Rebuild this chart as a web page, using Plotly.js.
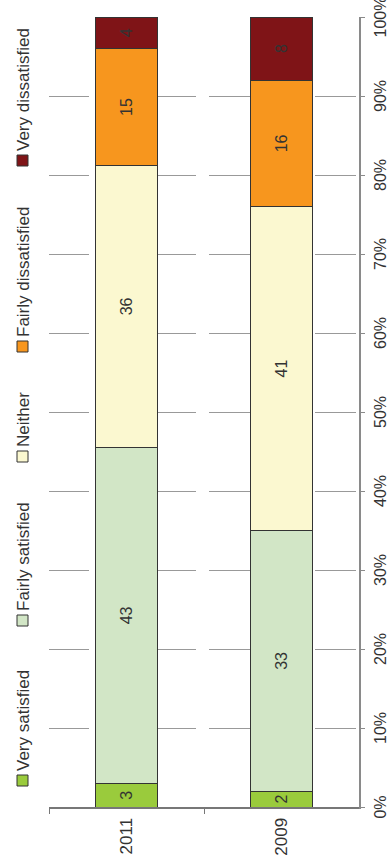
<!DOCTYPE html>
<html>
<head>
<meta charset="utf-8">
<script src="https://cdn.plot.ly/plotly-3.0.1.min.js"></script>
<style>
  html, body { margin: 0; padding: 0; width: 389px; height: 867px; overflow: hidden; background: #fff; }
  #wrap { position: absolute; left: 0; top: 0; width: 867px; height: 389px;
          transform-origin: 0 0; transform: translate(0px, 867px) rotate(-90deg); }
</style>
</head>
<body>
<div id="wrap"><div id="chart"></div></div>
<script>
// ---- data ----
var categories = ['2011', '2009'];
var seriesNames = ['Very satisfied', 'Fairly satisfied', 'Neither', 'Fairly dissatisfied', 'Very dissatisfied'];
var verySatisfied      = [3, 2];
var fairlySatisfied    = [43, 33];
var neither            = [36, 41];
var fairlyDissatisfied = [15, 16];
var veryDissatisfied   = [4, 8];
var percentTicks = [0, 10, 20, 30, 40, 50, 60, 70, 80, 90, 100];

// ---- styles ----
var colors = ['#9acb3c', '#d2e6c6', '#fbf8d0', '#f7961e', '#7f1417'];
var FONT = 'Liberation Sans, Arial, sans-serif';
var TXT = '#333333';

var seriesValues = [verySatisfied, fairlySatisfied, neither, fairlyDissatisfied, veryDissatisfied];

var traces = seriesValues.map(function (vals, i) {
  return {
    type: 'bar',
    orientation: 'h',
    name: seriesNames[i],
    y: categories,
    x: vals,
    width: 0.4,
    text: vals.map(String),
    textposition: 'inside',
    insidetextanchor: 'middle',
    textangle: 0,
    constraintext: 'none',
    textfont: { family: FONT, size: 16, color: TXT },
    marker: { color: colors[i], line: { color: '#333333', width: 1 } },
    showlegend: false,
    hoverinfo: 'skip'
  };
});

// custom legend (plot area: x 60..850 px, y 49..359 px)
var PL = 60, PW = 790, PT = 49, PH = 310;
var legendSquareX = [81, 241, 405, 515, 701];
var legendTop = 17, legendSize = 11;
function px2x(px) { return (px - PL) / PW; }
function py2y(py) { return (PT + PH - py) / PH; }

var shapes = [], annotations = [];
seriesNames.forEach(function (name, i) {
  shapes.push({
    type: 'rect', xref: 'paper', yref: 'paper',
    x0: px2x(legendSquareX[i]), x1: px2x(legendSquareX[i] + legendSize),
    y0: py2y(legendTop + legendSize), y1: py2y(legendTop),
    fillcolor: colors[i], line: { color: '#333333', width: 1 }
  });
  annotations.push({
    xref: 'paper', yref: 'paper',
    x: px2x(legendSquareX[i] + legendSize + 2), xanchor: 'left',
    y: py2y(legendTop + legendSize / 2 + 1), yanchor: 'middle',
    text: name, showarrow: false,
    font: { family: FONT, size: 17, color: TXT }
  });
});

var layout = {
  width: 867, height: 389,
  margin: { l: PL, r: 867 - PL - PW, t: PT, b: 389 - PT - PH, pad: 0 },
  paper_bgcolor: '#ffffff', plot_bgcolor: '#ffffff',
  barmode: 'stack', barnorm: 'percent',
  font: { family: FONT, size: 16, color: TXT },
  xaxis: {
    range: [0, 100],
    tickvals: percentTicks,
    ticktext: percentTicks.map(function (v) { return v + '%'; }),
    showgrid: true, gridcolor: '#999999', gridwidth: 1,
    griddash: '40px,7px,100px,13px,104px,2px,41px,3px',
    zeroline: false,
    showline: true, linecolor: '#8a8a8a', linewidth: 1.5,
    ticks: 'outside', ticklen: 4, tickcolor: '#8a8a8a', tickwidth: 1,
    ticklabelstandoff: 2,
    ticklabeloverflow: 'allow',
    tickfont: { family: FONT, size: 16, color: TXT },
    fixedrange: true
  },
  yaxis: {
    type: 'category',
    autorange: 'reversed',
    showgrid: false, zeroline: false,
    showline: true, linecolor: '#777777', linewidth: 1.5,
    ticks: 'outside', tickson: 'boundaries', ticklen: 5, tickcolor: '#777777', tickwidth: 1,
    ticklabelstandoff: 6,
    tickfont: { family: FONT, size: 17, color: TXT },
    fixedrange: true
  },
  shapes: shapes,
  annotations: annotations
};

Plotly.newPlot('chart', traces, layout, { staticPlot: true, displayModeBar: false });
</script>
</body>
</html>
